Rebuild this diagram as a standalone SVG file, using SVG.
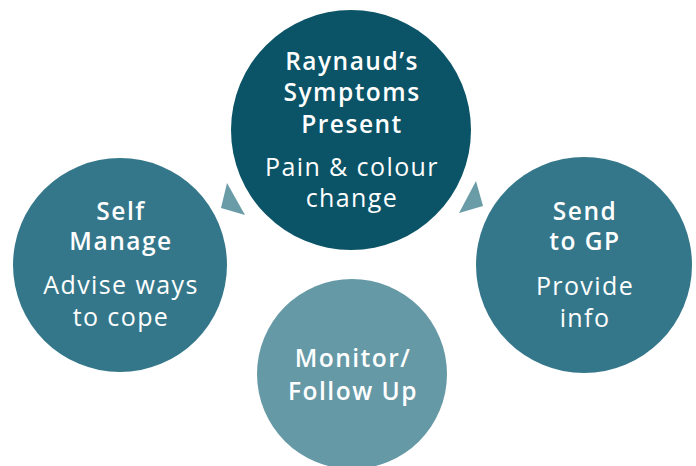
<svg xmlns="http://www.w3.org/2000/svg" width="696" height="466" viewBox="0 0 696 466">
<style>
text{font-family:"Open Sans","Liberation Sans",sans-serif;fill:#fff;text-anchor:middle}
.h{font-weight:600;font-size:24.5px;letter-spacing:1.5px}
.s{font-weight:400;font-size:25px;letter-spacing:1.4px}
.arrow{fill:#6a9ca8}
</style>
<rect width="696" height="466" fill="#fff"/>
<g id="connectors">
<polygon class="arrow" points="227,183 221,208 245,215"/>
<polygon class="arrow" points="476,181 459,213 483,206"/>
</g>
<g id="node-raynauds">
<circle cx="351" cy="130" r="120" fill="#0b5366"/>
<text class="h" x="352" y="70">Raynaud’s</text>
<text class="h" x="352" y="101">Symptoms</text>
<text class="h" x="352" y="133">Present</text>
<text class="s" x="352" y="176">Pain &amp; colour</text>
<text class="s" x="352" y="207">change</text>
</g>
<g id="node-self-manage">
<circle cx="120" cy="265" r="107" fill="#35778a"/>
<text class="h" x="121" y="220">Self</text>
<text class="h" x="121" y="250">Manage</text>
<text class="s" x="121" y="294">Advise ways</text>
<text class="s" x="121" y="326">to cope</text>
</g>
<g id="node-send-gp">
<circle cx="584" cy="265" r="108" fill="#35778a"/>
<text class="h" x="585" y="220">Send</text>
<text class="h" x="585" y="250">to GP</text>
<text class="s" x="585" y="295">Provide</text>
<text class="s" x="585" y="327">info</text>
</g>
<g id="node-monitor">
<circle cx="352" cy="374" r="95" fill="#6699a6"/>
<text class="h" x="353" y="367">Monitor/</text>
<text class="h" x="353" y="400">Follow Up</text>
</g>
</svg>
